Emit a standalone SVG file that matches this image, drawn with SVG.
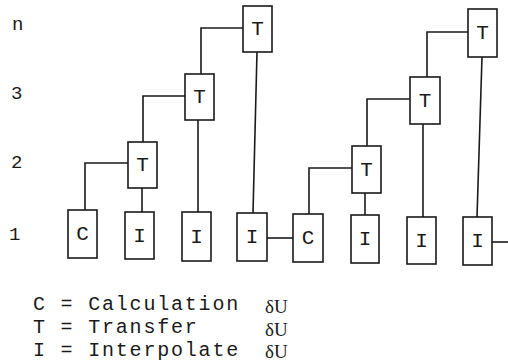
<svg xmlns="http://www.w3.org/2000/svg" width="508" height="362" viewBox="0 0 508 362">
  <style>
    .box rect { fill: #fff; stroke: #1a1a1a; stroke-width: 1.6; }
    .box text { font-family: "Liberation Mono", "Courier New", monospace; font-size: 21px; fill: #1a1a1a; text-anchor: middle; }
    .wire { fill: none; stroke: #1a1a1a; stroke-width: 1.6; }
    .lvl { font-family: "Liberation Mono", "Courier New", monospace; font-size: 19px; fill: #1a1a1a; }
    .key { font-family: "Liberation Mono", "Courier New", monospace; font-size: 20px; letter-spacing: 1.8px; fill: #1a1a1a; }
    .du { font-family: "Liberation Serif", "Times New Roman", serif; font-size: 19px; fill: #1a1a1a; }
  </style>

  <!-- level labels -->
  <g id="levels">
    <text class="lvl" x="12" y="30">n</text>
    <text class="lvl" x="11" y="99">3</text>
    <text class="lvl" x="11" y="168">2</text>
    <text class="lvl" x="9" y="240">1</text>
  </g>

  <!-- connectors -->
  <g id="connectors">
    <path class="wire" d="M85,210 V163 H128"/>
    <path class="wire" d="M142,188 V212"/>
    <path class="wire" d="M143,142 V96 H185"/>
    <path class="wire" d="M198,120 V212"/>
    <path class="wire" d="M201,74 V28 H243"/>
    <path class="wire" d="M257,52 L253,213"/>
    <path class="wire" d="M267,238 H293"/>
    <path class="wire" d="M309,214 V168 H352"/>
    <path class="wire" d="M365,193 V215"/>
    <path class="wire" d="M367,146 V99 H410"/>
    <path class="wire" d="M423,124 V217"/>
    <path class="wire" d="M427,77 V32 H468"/>
    <path class="wire" d="M482,57 L477,217"/>
    <path class="wire" d="M492,242 H508"/>
  </g>

  <!-- first cycle -->
  <g id="c1" class="box"><rect x="68" y="210" width="29" height="48"/><text x="82.5" y="240">C</text></g>
  <g id="i1" class="box"><rect x="125" y="212" width="29" height="47"/><text x="139.5" y="241.5">I</text></g>
  <g id="i2" class="box"><rect x="182" y="212" width="29" height="49"/><text x="196.5" y="242.5">I</text></g>
  <g id="i3" class="box"><rect x="237" y="213" width="30" height="48"/><text x="252" y="243">I</text></g>
  <g id="t2" class="box"><rect x="128" y="142" width="29" height="46"/><text x="142.5" y="171">T</text></g>
  <g id="t3" class="box"><rect x="185" y="74" width="29" height="46"/><text x="199.5" y="103">T</text></g>
  <g id="tn" class="box"><rect x="243" y="6" width="29" height="46"/><text x="257.5" y="35">T</text></g>

  <!-- second cycle -->
  <g id="c2" class="box"><rect x="293" y="214" width="30" height="48"/><text x="308" y="244">C</text></g>
  <g id="i1b" class="box"><rect x="351" y="215" width="28" height="48"/><text x="365" y="245">I</text></g>
  <g id="i2b" class="box"><rect x="407" y="217" width="29" height="47"/><text x="421.5" y="246.5">I</text></g>
  <g id="i3b" class="box"><rect x="463" y="217" width="29" height="48"/><text x="477.5" y="247">I</text></g>
  <g id="t2b" class="box"><rect x="352" y="146" width="29" height="47"/><text x="366.5" y="175.5">T</text></g>
  <g id="t3b" class="box"><rect x="410" y="77" width="30" height="47"/><text x="425" y="106.5">T</text></g>
  <g id="tnb" class="box"><rect x="468" y="9" width="29" height="48"/><text x="482.5" y="39">T</text></g>

  <!-- key -->
  <g id="legend">
    <text class="key" x="33" y="310" xml:space="preserve">C = Calculation</text>
    <text class="key" x="33" y="333" xml:space="preserve">T = Transfer</text>
    <text class="key" x="33" y="356" xml:space="preserve">I = Interpolate</text>
    <text class="du" x="265" y="313">δU</text>
    <text class="du" x="265" y="336">δU</text>
    <text class="du" x="265" y="358">δU</text>
  </g>
</svg>
